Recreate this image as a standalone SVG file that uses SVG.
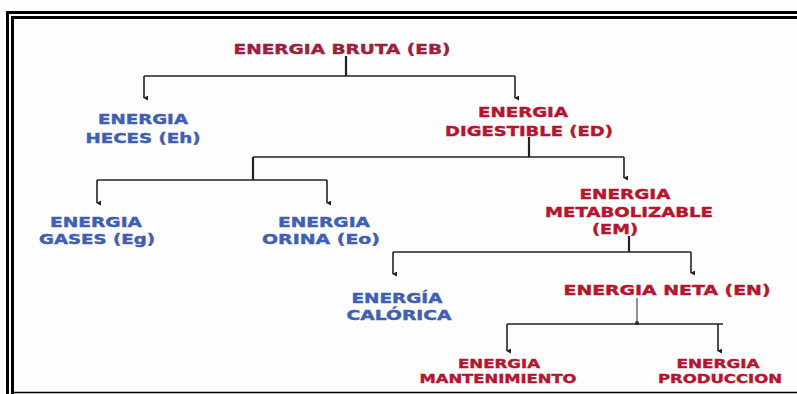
<svg xmlns="http://www.w3.org/2000/svg" width="797" height="394" viewBox="0 0 797 394">
<style>
.t{font-family:"DejaVu Sans","Verdana",sans-serif;font-weight:bold;font-size:13.5px;text-anchor:middle;stroke-width:0.4}
.sm{font-size:11.5px}
.r{fill:#b5162e;stroke:#b5162e}
.rb{fill:#9c1f40;stroke:#9c1f40}
.b{fill:#3f5fb5;stroke:#3f5fb5}
.c{fill:none;stroke:#222;stroke-width:1.6}
.s{fill:none;stroke:#222;stroke-width:2.2}
.g{fill:none;stroke:#777;stroke-width:1.6}
.bd{fill:none;stroke:#000;stroke-width:3}
</style>
<defs>
<marker id="ah" viewBox="0 0 6 6" refX="3" refY="5" markerWidth="5" markerHeight="5" markerUnits="userSpaceOnUse" orient="auto-start-reverse">
<path d="M0,0 L6,0 L3,6 Z" fill="#222"/>
</marker>
<marker id="ad" viewBox="0 0 6 6" refX="3" refY="3" markerWidth="4" markerHeight="4" markerUnits="userSpaceOnUse">
<circle cx="3" cy="3" r="3" fill="#333"/>
</marker>
</defs>
<rect width="797" height="394" fill="#fdfdfd"/>
<g id="border">
<path class="bd" d="M7.5,394 V12.5 H797"/>
<path class="bd" d="M12.5,394 V17.5 H797"/>
<path d="M12,392.5 H797" stroke="#000" stroke-width="1.6" fill="none"/>
</g>
<g id="connectors">
<path class="s" d="M346,56 V76"/>
<path class="c" d="M144,76 H515"/>
<path class="c" d="M144,76 V98" marker-end="url(#ah)"/>
<path class="c" d="M515,76 V98" marker-end="url(#ah)"/>
<path class="s" d="M529,137 V157"/>
<path class="c" d="M253,157 H624"/>
<path class="c" d="M624,157 V178" marker-end="url(#ah)"/>
<path class="s" d="M253,157 V180"/>
<path class="c" d="M97,180 H327"/>
<path class="c" d="M97,180 V203" marker-end="url(#ah)"/>
<path class="c" d="M327,180 V203" marker-end="url(#ah)"/>
<path class="s" d="M629,236 V252"/>
<path class="c" d="M393,252 H691"/>
<path class="c" d="M393,252 V274" marker-end="url(#ah)"/>
<path class="c" d="M691,252 V273" marker-end="url(#ah)"/>
<path class="g" d="M637,298 V323" marker-end="url(#ad)"/>
<path class="c" d="M507,324 H723"/>
<path class="c" d="M507,324 V351" marker-end="url(#ah)"/>
<path class="c" d="M718,324 V351" marker-end="url(#ah)"/>
</g>
<g id="eb"><text class="t rb" x="342" y="54" textLength="217" lengthAdjust="spacingAndGlyphs">ENERGIA BRUTA (EB)</text></g>
<g id="eh">
<text class="t b" x="143" y="124" textLength="90" lengthAdjust="spacingAndGlyphs">ENERGIA</text>
<text class="t b" x="143" y="143" textLength="115" lengthAdjust="spacingAndGlyphs">HECES (Eh)</text>
</g>
<g id="ed">
<text class="t r" x="523" y="117" textLength="90" lengthAdjust="spacingAndGlyphs">ENERGIA</text>
<text class="t r" x="529" y="136" textLength="168" lengthAdjust="spacingAndGlyphs">DIGESTIBLE (ED)</text>
</g>
<g id="eg">
<text class="t b" x="96" y="227" textLength="92" lengthAdjust="spacingAndGlyphs">ENERGIA</text>
<text class="t b" x="97" y="244" textLength="116" lengthAdjust="spacingAndGlyphs">GASES (Eg)</text>
</g>
<g id="eo">
<text class="t b" x="324" y="227" textLength="92" lengthAdjust="spacingAndGlyphs">ENERGIA</text>
<text class="t b" x="321" y="244" textLength="118" lengthAdjust="spacingAndGlyphs">ORINA (Eo)</text>
</g>
<g id="em">
<text class="t r" x="625" y="199" textLength="91" lengthAdjust="spacingAndGlyphs">ENERGIA</text>
<text class="t r" x="629" y="217" textLength="168" lengthAdjust="spacingAndGlyphs">METABOLIZABLE</text>
<text class="t r" x="615" y="234" textLength="46" lengthAdjust="spacingAndGlyphs">(EM)</text>
</g>
<g id="ec">
<text class="t b" x="397" y="303" textLength="91" lengthAdjust="spacingAndGlyphs">ENERGÍA</text>
<text class="t b" x="399" y="320" textLength="105" lengthAdjust="spacingAndGlyphs">CALÓRICA</text>
</g>
<g id="en"><text class="t r" x="667" y="295" textLength="207" lengthAdjust="spacingAndGlyphs">ENERGIA NETA (EN)</text></g>
<g id="emant">
<text class="t sm r" x="499" y="368" textLength="82" lengthAdjust="spacingAndGlyphs">ENERGIA</text>
<text class="t sm r" x="498" y="382.5" textLength="157" lengthAdjust="spacingAndGlyphs">MANTENIMIENTO</text>
</g>
<g id="eprod">
<text class="t sm r" x="718" y="368" textLength="83" lengthAdjust="spacingAndGlyphs">ENERGIA</text>
<text class="t sm r" x="720" y="382.5" textLength="124" lengthAdjust="spacingAndGlyphs">PRODUCCION</text>
</g>
</svg>
